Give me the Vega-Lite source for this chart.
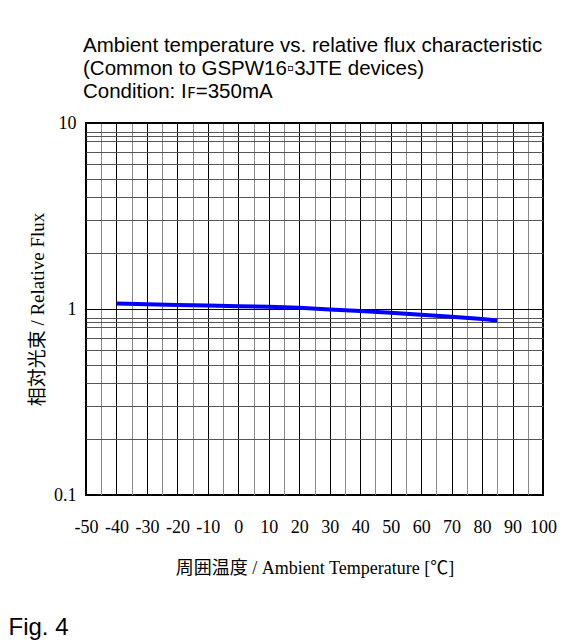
{
  "$schema": "https://vega.github.io/schema/vega-lite/v6.json",
  "width": 457,
  "height": 372,
  "autosize": {"type": "none"},
  "padding": {"left": 86, "top": 123, "right": 31, "bottom": 146},
  "background": "white",
  "title": {
    "text": ["Ambient temperature vs. relative flux characteristic", "(Common to GSPW16▫3JTE devices)", "Condition: Iꜰ=350mA"],
    "anchor": "start",
    "frame": "group",
    "font": "Liberation Sans",
    "fontSize": 20.5,
    "fontWeight": "normal",
    "color": "black",
    "lineHeight": 23,
    "offset": 12,
    "dx": -3
  },
  "data": {
    "values": [
      {"temp": -40, "flux": 1.070},
      {"temp": -30, "flux": 1.062},
      {"temp": -20, "flux": 1.052},
      {"temp": -10, "flux": 1.044},
      {"temp": 0, "flux": 1.036},
      {"temp": 10, "flux": 1.028},
      {"temp": 20, "flux": 1.015},
      {"temp": 30, "flux": 0.995},
      {"temp": 40, "flux": 0.975},
      {"temp": 50, "flux": 0.955},
      {"temp": 60, "flux": 0.932},
      {"temp": 70, "flux": 0.908},
      {"temp": 80, "flux": 0.883},
      {"temp": 85, "flux": 0.868}
    ]
  },
  "layer": [
    {
      "mark": {"type": "line", "color": "#0000ff", "strokeWidth": 4},
      "encoding": {
        "x": {
          "field": "temp",
          "type": "quantitative",
          "scale": {"domain": [-50, 100], "nice": false, "zero": false},
          "axis": {
            "orient": "bottom",
            "values": [-50, -45, -40, -35, -30, -25, -20, -15, -10, -5, 0, 5, 10, 15, 20, 25, 30, 35, 40, 45, 50, 55, 60, 65, 70, 75, 80, 85, 90, 95, 100],
            "labelExpr": "datum.value % 10 === 0 ? '' + datum.value : ''",
            "labelOverlap": false,
            "labelFlush": false,
            "labelFont": "Liberation Serif",
            "labelFontSize": 18,
            "labelColor": "black",
            "labelPadding": 23,
            "ticks": false,
            "domain": false,
            "grid": true,
            "gridColor": {"condition": {"test": "datum.value % 10 === 0", "value": "#000000"}, "value": "#8a8a8a"},
            "gridWidth": 1,
            "gridOpacity": 1,
            "title": "周囲温度  / Ambient Temperature [℃]",
            "titleFont": "Liberation Serif, Noto Sans CJK JP",
            "titleFontSize": 18,
            "titleFontWeight": "normal",
            "titleColor": "black",
            "titlePadding": 23
          }
        },
        "y": {
          "field": "flux",
          "type": "quantitative",
          "scale": {"type": "log", "domain": [0.1, 10], "nice": false},
          "axis": {
            "values": [0.1, 0.2, 0.3, 0.4, 0.5, 0.6, 0.7, 0.8, 0.85, 0.9, 1, 2, 3, 4, 5, 6, 7, 8, 8.5, 9, 10],
            "labelExpr": "(datum.value === 0.1 || datum.value === 1 || datum.value === 10) ? '' + datum.value : ''",
            "labelOverlap": false,
            "labelFlush": false,
            "labelFont": "Liberation Serif",
            "labelFontSize": 18,
            "labelColor": "black",
            "labelPadding": 10,
            "ticks": false,
            "domain": false,
            "grid": true,
            "gridColor": {"condition": {"test": "datum.value === 0.1 || datum.value === 1 || datum.value === 10", "value": "#000000"}, "value": "#555555"},
            "gridWidth": 1,
            "gridOpacity": 1,
            "title": "相対光束 / Relative Flux",
            "titleFont": "Liberation Serif, Noto Sans CJK JP",
            "titleFontSize": 19,
            "titleFontWeight": "normal",
            "titleColor": "black",
            "titlePadding": 6
          }
        }
      }
    },
    {
      "mark": {"type": "point", "opacity": 0, "size": 0},
      "encoding": {
        "x": {
          "field": "temp",
          "type": "quantitative",
          "axis": {
            "orient": "bottom",
            "labels": false,
            "ticks": false,
            "domain": false,
            "grid": false,
            "title": "Fig. 4",
            "titleFont": "Liberation Sans",
            "titleFontSize": 24,
            "titleFontWeight": "normal",
            "titleColor": "black",
            "titleAnchor": "start",
            "titleAlign": "left",
            "titleBaseline": "alphabetic",
            "titleX": -78,
            "titleY": 139
          }
        },
        "y": {"field": "flux", "type": "quantitative"}
      }
    }
  ],
  "resolve": {"axis": {"x": "independent", "y": "shared"}},
  "config": {
    "view": {"stroke": "black", "strokeWidth": 2}
  }
}
